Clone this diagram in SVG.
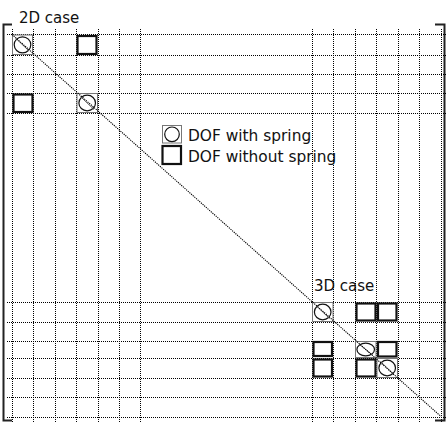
<svg xmlns="http://www.w3.org/2000/svg" width="447" height="423" viewBox="0 0 447 423">
<style>
.bg{fill:#fff}
.grid line{stroke:#000;stroke-width:1;stroke-dasharray:1 1;fill:none;shape-rendering:crispEdges}
.diag{stroke:#000;stroke-width:1.1;stroke-dasharray:1.2 1;fill:none}
.br{stroke:#222;stroke-width:2;fill:none}
.sq{fill:#fff;stroke:#111;stroke-width:2.2}
.cbox{fill:#fff;stroke:#777;stroke-width:1}
.circ{fill:none;stroke:#111;stroke-width:1.2}
.hatch{stroke:#555;stroke-width:1}
text{font-family:"DejaVu Sans","Noto Sans",sans-serif;fill:#111}
.lbl{font-size:15px}
.leg{font-size:15.4px}
</style>
<rect class="bg" x="0" y="0" width="447" height="423"/>
<g id="brackets">
<path class="br" d="M12,24.5 H3.5 V420.5 H12"/>
<path class="br" d="M435,24.5 H444.5 V420.5 H435"/>
</g>
<g id="connectors">
<g class="grid">
<line x1="12.5" y1="29" x2="12.5" y2="422"/>
<line x1="33.5" y1="29" x2="33.5" y2="422"/>
<line x1="55.5" y1="29" x2="55.5" y2="422"/>
<line x1="76.5" y1="29" x2="76.5" y2="422"/>
<line x1="98.5" y1="29" x2="98.5" y2="422"/>
<line x1="119.5" y1="29" x2="119.5" y2="422"/>
<line x1="140.5" y1="29" x2="140.5" y2="422"/>
<line x1="312.5" y1="29" x2="312.5" y2="422"/>
<line x1="333.5" y1="29" x2="333.5" y2="422"/>
<line x1="355.5" y1="29" x2="355.5" y2="422"/>
<line x1="376.5" y1="29" x2="376.5" y2="422"/>
<line x1="398.5" y1="29" x2="398.5" y2="422"/>
<line x1="419.5" y1="29" x2="419.5" y2="422"/>
<line x1="441.5" y1="29" x2="441.5" y2="422"/>
<line x1="7" y1="34.5" x2="447" y2="34.5"/>
<line x1="7" y1="55.5" x2="447" y2="55.5"/>
<line x1="7" y1="74.5" x2="447" y2="74.5"/>
<line x1="7" y1="93.5" x2="447" y2="93.5"/>
<line x1="7" y1="113.5" x2="447" y2="113.5"/>
<line x1="7" y1="302.5" x2="447" y2="302.5"/>
<line x1="7" y1="322.5" x2="447" y2="322.5"/>
<line x1="7" y1="341.5" x2="447" y2="341.5"/>
<line x1="7" y1="358.5" x2="447" y2="358.5"/>
<line x1="7" y1="378.5" x2="447" y2="378.5"/>
<line x1="7" y1="397.5" x2="447" y2="397.5"/>
<line x1="7" y1="417.5" x2="447" y2="417.5"/>
</g>
</g>
<g id="labels">
<text class="lbl" x="19" y="23.3">2D case</text>
<text class="lbl" x="314" y="291">3D case</text>
</g>
<g id="cell-2d-11">
<rect class="cbox" x="12.5" y="35" width="20" height="19.5"/>
<ellipse class="circ" cx="22.5" cy="44.8" rx="8.3" ry="8"/>
<line class="hatch" x1="16" y1="38.5" x2="29" y2="51"/>
</g>
<g id="cell-2d-14">
<rect class="sq" x="77.5" y="36" width="19" height="18"/>
</g>
<g id="cell-2d-41">
<rect class="sq" x="13.5" y="94.5" width="19" height="17.5"/>
</g>
<g id="cell-2d-44">
<rect class="cbox" x="77" y="93.5" width="20.5" height="19"/>
<ellipse class="circ" cx="87.2" cy="103" rx="8.3" ry="7.8"/>
<line class="hatch" x1="80.5" y1="96.5" x2="94" y2="109.5"/>
</g>
<g id="cell-3d-11">
<rect class="cbox" x="312.5" y="302.5" width="20.5" height="19"/>
<ellipse class="circ" cx="322.7" cy="312" rx="8.3" ry="7.8"/>
<line class="hatch" x1="316" y1="305.5" x2="329.5" y2="318.5"/>
</g>
<g id="cell-3d-13">
<rect class="sq" x="356.5" y="303.5" width="19" height="17"/>
</g>
<g id="cell-3d-14">
<rect class="sq" x="378" y="303.5" width="18.5" height="17"/>
</g>
<g id="cell-3d-31">
<rect class="sq" x="313.5" y="342" width="18.5" height="14"/>
</g>
<g id="cell-3d-33">
<rect class="cbox" x="355.5" y="341.5" width="20.5" height="16"/>
<ellipse class="circ" cx="365.7" cy="349.5" rx="8.8" ry="6.3"/>
<line class="hatch" x1="359" y1="344" x2="372.5" y2="355"/>
</g>
<g id="cell-3d-34">
<rect class="sq" x="378" y="342" width="18.5" height="14.5"/>
</g>
<g id="cell-3d-41">
<rect class="sq" x="313.5" y="359.5" width="18.5" height="17"/>
</g>
<g id="cell-3d-43">
<rect class="sq" x="356.5" y="359.5" width="19" height="17"/>
</g>
<g id="cell-3d-44">
<rect class="cbox" x="377" y="358.5" width="20.5" height="19"/>
<ellipse class="circ" cx="387.2" cy="368" rx="8.3" ry="7.8"/>
<line class="hatch" x1="380.5" y1="361.5" x2="394" y2="374.5"/>
</g>
<g id="diagonal">
<line class="diag" x1="12" y1="34.5" x2="441" y2="416.5"/>
</g>
<g id="legend">
<rect class="cbox" x="162.5" y="125.5" width="19" height="17.5"/>
<circle class="circ" cx="172" cy="134.3" r="7.3"/>
<rect class="sq" x="162.5" y="146" width="18.5" height="18"/>
<text class="leg" x="188" y="140.5">DOF with spring</text>
<text class="leg" x="188" y="161.5">DOF without spring</text>
</g>
</svg>
